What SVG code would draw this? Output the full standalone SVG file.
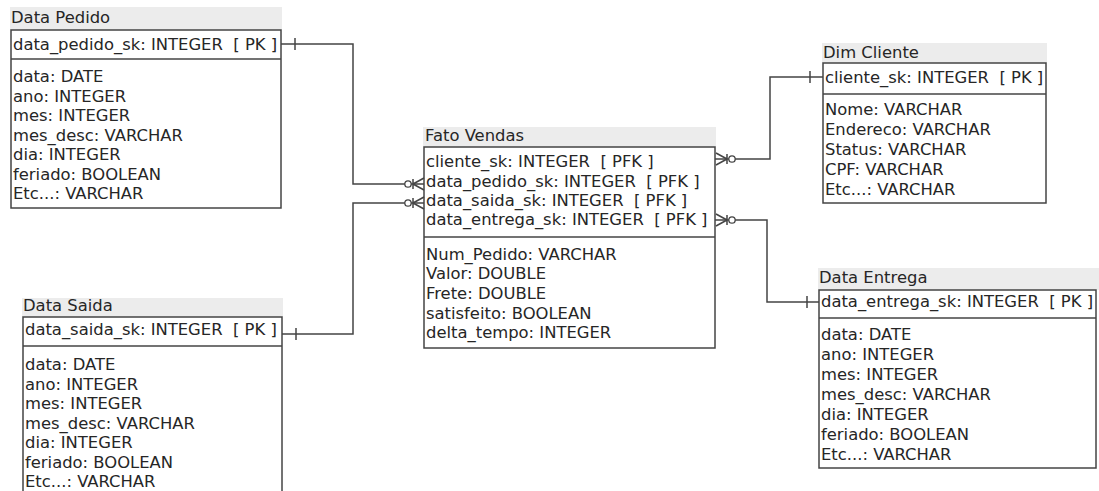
<svg xmlns="http://www.w3.org/2000/svg" width="1099" height="491" viewBox="0 0 1099 491">
<style>
text{font-family:"DejaVu Sans",sans-serif;font-size:16.4px;fill:#262626;white-space:pre}
.tb{fill:#ececec}
.box{fill:#fff;stroke:#444;stroke-width:1.5}
.div{stroke:#444;stroke-width:1.5}
.con{fill:none;stroke:#444;stroke-width:1.5}
.cir{fill:#fff;stroke:#444;stroke-width:1.3}
</style>
<rect width="1099" height="491" fill="#fff"/>
<g id="data-pedido">
<rect class="tb" x="10" y="7" width="272" height="23"/>
<text x="11" y="23">Data Pedido</text>
<rect class="box" x="11" y="30" width="270" height="178"/>
<line class="div" x1="11" y1="59" x2="281" y2="59"/>
<text x="13" y="50">data_pedido_sk: INTEGER  [ PK ]</text>
<text x="13" y="82">data: DATE</text>
<text x="13" y="101.5">ano: INTEGER</text>
<text x="13" y="121">mes: INTEGER</text>
<text x="13" y="140.5">mes_desc: VARCHAR</text>
<text x="13" y="160">dia: INTEGER</text>
<text x="13" y="179.5">feriado: BOOLEAN</text>
<text x="13" y="199">Etc...: VARCHAR</text>
</g>
<g id="data-saida">
<rect class="tb" x="22" y="298" width="261" height="19"/>
<text x="23" y="311">Data Saida</text>
<rect class="box" x="23" y="317" width="259" height="190"/>
<line class="div" x1="23" y1="346" x2="282" y2="346"/>
<text x="25" y="335">data_saida_sk: INTEGER  [ PK ]</text>
<text x="25" y="370">data: DATE</text>
<text x="25" y="389.5">ano: INTEGER</text>
<text x="25" y="409">mes: INTEGER</text>
<text x="25" y="428.5">mes_desc: VARCHAR</text>
<text x="25" y="448">dia: INTEGER</text>
<text x="25" y="467.5">feriado: BOOLEAN</text>
<text x="25" y="487">Etc...: VARCHAR</text>
</g>
<g id="fato-vendas">
<rect class="tb" x="423" y="127" width="293" height="20"/>
<text x="425" y="141">Fato Vendas</text>
<rect class="box" x="424" y="147" width="291" height="201"/>
<line class="div" x1="424" y1="237" x2="715" y2="237"/>
<text x="426" y="167">cliente_sk: INTEGER  [ PFK ]</text>
<text x="426" y="187">data_pedido_sk: INTEGER  [ PFK ]</text>
<text x="426" y="206">data_saida_sk: INTEGER  [ PFK ]</text>
<text x="426" y="225">data_entrega_sk: INTEGER  [ PFK ]</text>
<text x="426" y="260">Num_Pedido: VARCHAR</text>
<text x="426" y="279">Valor: DOUBLE</text>
<text x="426" y="299">Frete: DOUBLE</text>
<text x="426" y="319">satisfeito: BOOLEAN</text>
<text x="426" y="338">delta_tempo: INTEGER</text>
</g>
<g id="dim-cliente">
<rect class="tb" x="822" y="43" width="225" height="20"/>
<text x="823" y="58">Dim Cliente</text>
<rect class="box" x="823" y="63" width="223" height="140"/>
<line class="div" x1="823" y1="94" x2="1046" y2="94"/>
<text x="825" y="83">cliente_sk: INTEGER  [ PK ]</text>
<text x="825" y="115">Nome: VARCHAR</text>
<text x="825" y="135">Endereco: VARCHAR</text>
<text x="825" y="155">Status: VARCHAR</text>
<text x="825" y="175">CPF: VARCHAR</text>
<text x="825" y="195">Etc...: VARCHAR</text>
</g>
<g id="data-entrega">
<rect class="tb" x="818" y="268" width="281" height="22"/>
<text x="819" y="283">Data Entrega</text>
<rect class="box" x="819" y="290" width="277" height="178"/>
<line class="div" x1="819" y1="318" x2="1096" y2="318"/>
<text x="821" y="307">data_entrega_sk: INTEGER  [ PK ]</text>
<text x="821" y="340">data: DATE</text>
<text x="821" y="360">ano: INTEGER</text>
<text x="821" y="380">mes: INTEGER</text>
<text x="821" y="400">mes_desc: VARCHAR</text>
<text x="821" y="420">dia: INTEGER</text>
<text x="821" y="440">feriado: BOOLEAN</text>
<text x="821" y="460">Etc...: VARCHAR</text>
</g>
<g id="connectors">
<polyline class="con" points="281,44 353,44 353,184 424,184"/>
<line class="con" x1="295" y1="38" x2="295" y2="50"/>
<path class="con" d="M413,184 L424,178 M413,184 L424,190 M413,179 L413,189"/>
<circle class="cir" cx="408" cy="184" r="3.2"/>
<polyline class="con" points="282,334 353,334 353,203 424,203"/>
<line class="con" x1="296" y1="328" x2="296" y2="340"/>
<path class="con" d="M413,203 L424,197 M413,203 L424,209 M413,198 L413,208"/>
<circle class="cir" cx="408" cy="203" r="3.2"/>
<polyline class="con" points="715,159 770,159 770,77 823,77"/>
<line class="con" x1="810" y1="71" x2="810" y2="83"/>
<path class="con" d="M727,159 L716,153 M727,159 L716,165 M727,154 L727,164"/>
<circle class="cir" cx="732" cy="159" r="3.2"/>
<polyline class="con" points="715,220 767,220 767,302 819,302"/>
<line class="con" x1="807" y1="296" x2="807" y2="308"/>
<path class="con" d="M727,220 L716,214 M727,220 L716,226 M727,215 L727,225"/>
<circle class="cir" cx="732" cy="220" r="3.2"/>
</g>
</svg>
